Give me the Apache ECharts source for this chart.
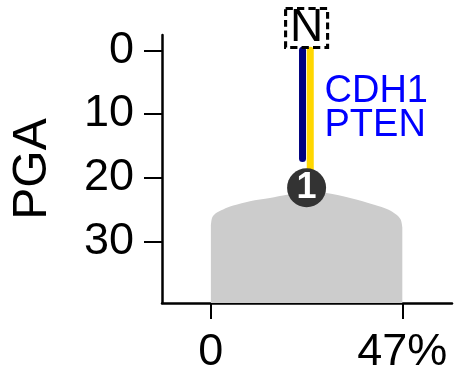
<html lang="en">
<head>
    <meta charset="UTF-8">
    <title>PGA</title>
    <script src="https://cdn.jsdelivr.net/npm/echarts@6/dist/echarts.min.js"></script>
</head>
<style>
    html, body { margin: 0; padding: 0; background: #fff; }
    #container { width: 455px; height: 375px; }
</style>
<body>
<div id="container"></div>
<script>
    // axis ticks
    var yTicks = [0, 10, 20, 30];
    var xTicks = [0, 47];

    // grey density outline (x in %, y in PGA)
    var densityX = [0, 0.3, 1.2, 3, 5.5, 9.6, 14.5, 18.7, 23.5, 28, 34.2, 40.3, 43.5, 45.5, 46.6, 47];
    var densityY = [27.6, 26.3, 25.6, 25.0, 24.4, 23.7, 23.2, 22.7, 22.2, 22.4, 23.2, 24.3, 25.0, 25.8, 26.6, 27.8];

    // mutation lines
    var geneNames = ['CDH1', 'PTEN'];
    var geneX = [22.5, 24.4];
    var geneEnd = [17.0, 19.5];
    var geneColors = ['#000080', '#ffd700'];

    // nodes
    var trunkLabel = 'N';
    var trunkPos = [23.5, -3.5];
    var cloneLabel = '1';
    var clonePos = [23.5, 21.6];
    var genesLabelPos = [27.9, 9.2];

    var chart = echarts.init(document.getElementById('container'));

    var font = 'Liberation Sans, Arial, sans-serif';

    var density = [];
    for (var i = 0; i < densityX.length; i++)
    {
        density.push([densityX[i], densityY[i]]);
    }

    var series = [
        {
            type: 'line',
            data: density,
            smooth: 0.3,
            showSymbol: false,
            lineStyle: { width: 0 },
            areaStyle: { color: '#cccccc', opacity: 1, origin: 'end' },
            silent: true,
            z: 1
        }
    ];

    for (var g = 0; g < geneNames.length; g++)
    {
        series.push({
            type: 'line',
            data: [[geneX[g], 0], [geneX[g], geneEnd[g]]],
            showSymbol: false,
            lineStyle: { width: 7, color: geneColors[g], cap: 'round' },
            z: 2
        });
    }

    series.push({
        type: 'scatter',
        data: [clonePos],
        symbol: 'circle',
        symbolSize: 39,
        itemStyle: { color: '#333333', opacity: 1 },
        label: {
            show: true, position: 'inside', formatter: cloneLabel,
            color: '#ffffff', fontSize: 36, fontWeight: 'bold', fontFamily: font
        },
        z: 5
    });

    series.push({
        type: 'scatter',
        data: [trunkPos],
        symbol: 'rect',
        symbolSize: [42, 39],
        clip: false,
        itemStyle: {
            color: 'rgba(255,255,255,0)',
            opacity: 1,
            borderColor: '#000000',
            borderWidth: 3,
            borderType: [7, 4]
        },
        label: {
            show: true, position: 'inside', formatter: trunkLabel,
            color: '#000000', fontSize: 46, fontFamily: font
        },
        z: 5
    });

    series.push({
        type: 'scatter',
        data: [genesLabelPos],
        symbolSize: 0,
        itemStyle: { opacity: 1 },
        label: {
            show: true, position: 'right', distance: 0,
            formatter: geneNames.join('\n'),
            color: '#0000ff', fontSize: 38, lineHeight: 34, fontFamily: font
        },
        z: 5
    });

    var option = {
        animation: false,
        grid: { left: 162, right: 3, top: 35, bottom: 72 },
        xAxis: {
            type: 'value',
            min: -12,
            max: 59.2,
            splitLine: { show: false },
            axisLine: { onZero: false, lineStyle: { color: '#000', width: 2.5 } },
            axisTick: { customValues: xTicks, length: 16, lineStyle: { color: '#000', width: 2 } },
            axisLabel: {
                customValues: xTicks,
                formatter: function (v) { return v === 0 ? '0' : v + '%'; },
                color: '#000', fontSize: 45, fontFamily: font, margin: 27
            }
        },
        yAxis: {
            type: 'value',
            inverse: true,
            min: -2.4,
            max: 39.7,
            name: 'PGA',
            nameLocation: 'middle',
            nameGap: 105,
            nameTextStyle: { color: '#000', fontSize: 48, fontFamily: font },
            splitLine: { show: false },
            axisLine: { onZero: false, lineStyle: { color: '#000', width: 2.5 } },
            axisTick: { customValues: yTicks, length: 18, lineStyle: { color: '#000', width: 2 } },
            axisLabel: {
                customValues: yTicks,
                color: '#000', fontSize: 45, fontFamily: font, margin: 28
            }
        },
        series: series
    };

    chart.setOption(option);
</script>
</body>
</html>
